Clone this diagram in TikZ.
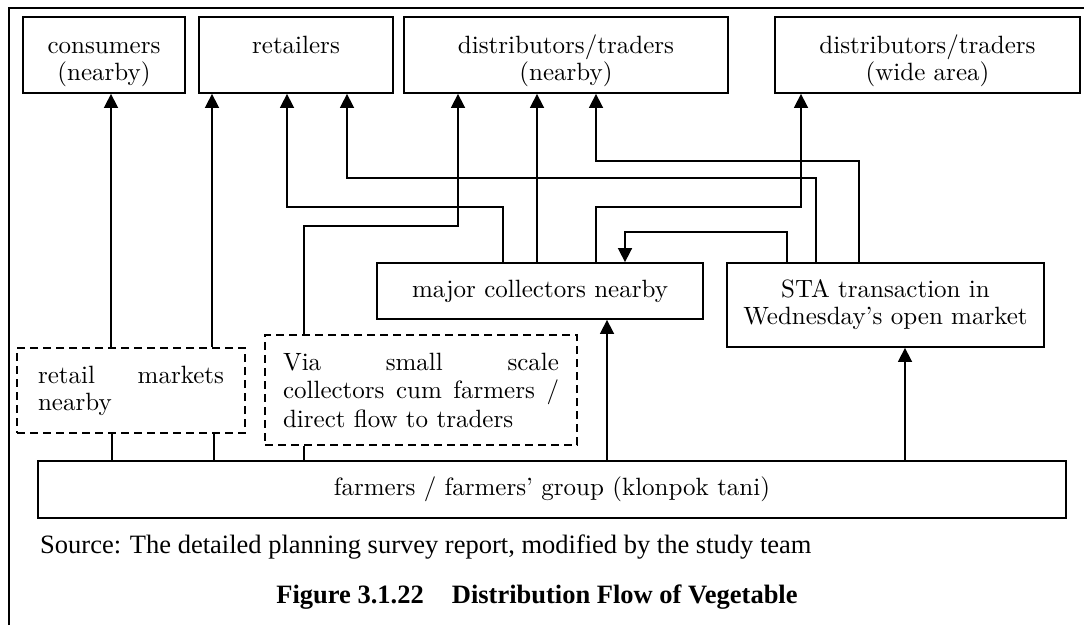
\documentclass[tikz,border=0pt]{standalone}
\usepackage{fontspec}
\setmainfont{lmroman10-regular.otf}[BoldFont=lmroman10-bold.otf]
\newfontfamily\timesfont{Liberation Serif}
\usetikzlibrary{arrows.meta}
% struts that fix the first and last baselines of the two-line labels
\newcommand\hiline{\rule{0pt}{31pt}}
\newcommand\loline{\rule[-8pt]{0pt}{8pt}}
\begin{document}
\begin{tikzpicture}[x=1pt,y=-1pt,
  every node/.style={font=\fontsize{25}{27}\selectfont, inner sep=0pt},
  box/.style={draw, line width=1.8pt, align=center},
  topbox/.style={box, minimum height=76pt},
  dbox/.style={draw, line width=1.8pt, dash pattern=on 8pt off 5pt,
    text width=#1, align=justify, inner xsep=21pt},
  link/.style={line width=1.6pt},
  arr/.style={link, -{Triangle[length=14pt,width=14pt]}},
]
\useasboundingbox (0,0) rectangle (1084,625);
% frame
\draw[line width=2pt] (9,625) -- (9,8) -- (1084,8);

% destinations
\node[topbox, minimum width=162pt] (cons) at (104,55) {\hiline consumers\\(nearby)\loline};
\node[topbox, minimum width=194pt] (ret) at (296,55) {\hiline retailers\\\loline};
\node[topbox, minimum width=324pt] (dnear) at (566,55) {\hiline distributors/traders\\(nearby)\loline};
\node[topbox, minimum width=305pt] (dwide) at (927.5,55) {\hiline distributors/traders\\(wide area)\loline};

% intermediate stages
\node[box, minimum width=326pt, minimum height=56pt] (mc) at (540,291) {major collectors nearby};
\node[box, minimum width=317pt, minimum height=84pt] (sta) at (885.5,305) {STA transaction in\\Wednesday’s open market};
\node[dbox=186pt, minimum height=85pt] (rm) at (131,390.5) {retail markets\linebreak nearby};
\node[dbox=276pt, inner xsep=18pt, minimum height=110pt, font=\fontsize{25}{28.5}\selectfont] (via) at (421,390) {Via small scale\linebreak collectors cum farmers~/ direct flow to traders};

% origin
\node[box, minimum width=1028pt, minimum height=57pt] (farm) at (552,489.5) {farmers / farmers’ group (klonpok tani)};

% flows upwards
\draw[arr] (111,0 |- rm.north) -- (111,0 |- cons.south);
\draw[arr] (212,0 |- rm.north) -- (212,0 |- ret.south);
\draw[arr] (503,0 |- mc.north) -- (503,207) -- (287,207) -- (287,0 |- ret.south);
\draw[arr] (816,0 |- sta.north) -- (816,178) -- (347,178) -- (347,0 |- ret.south);
\draw[arr] (304,0 |- via.north) -- (304,226) -- (458,226) -- (458,0 |- dnear.south);
\draw[arr] (537,0 |- mc.north) -- (537,0 |- dnear.south);
\draw[arr] (859,0 |- sta.north) -- (859,161) -- (596,161) -- (596,0 |- dnear.south);
\draw[arr] (596,0 |- mc.north) -- (596,207) -- (801,207) -- (801,0 |- dwide.south);
\draw[arr] (787,0 |- sta.north) -- (787,232) -- (625,232) -- (625,0 |- mc.north);
\draw[link] (112,0 |- farm.north) -- (112,0 |- rm.south);
\draw[link] (214,0 |- farm.north) -- (214,0 |- rm.south);
\draw[link] (304,0 |- farm.north) -- (304,0 |- via.south);
\draw[arr] (607,0 |- farm.north) -- (607,0 |- mc.south);
\draw[arr] (905,0 |- farm.north) -- (905,0 |- sta.south);

% source and caption
\node[anchor=west, font=\timesfont\fontsize{26.5}{30}\selectfont] (src) at (40,547)
  {Source: The detailed planning survey report, modified by the study team};
\node[font=\timesfont\bfseries\fontsize{26.5}{30}\selectfont] (cap) at (537,597)
  {Figure 3.1.22\hspace{28pt}Distribution Flow of Vegetable};
\end{tikzpicture}
\end{document}
